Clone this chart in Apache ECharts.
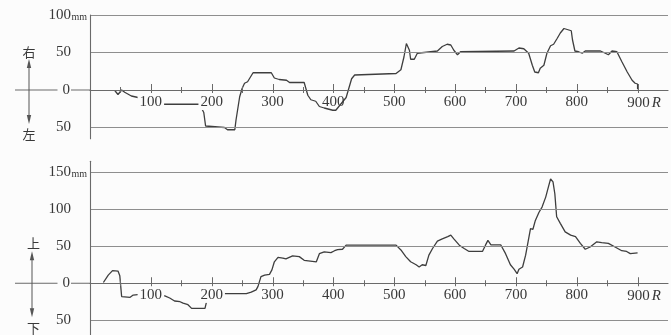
<!DOCTYPE html>
<html><head><meta charset="utf-8">
<script src="https://cdn.jsdelivr.net/npm/echarts@6/dist/echarts.min.js"></script>
<style>html,body{margin:0;padding:0;background:#fcfcfc}#c{width:671px;height:335px}</style>
</head><body><div id="c"></div>
<script>
// ---- data ----
const xTickLabels = [100, 200, 300, 400, 500, 600, 700, 800, 900];
const xMinorTicks = [50, 150, 250, 350, 450, 550, 650, 750, 850];
const xUnit = 'R';

const topYLabels = [-50, 0, 50, 100];
const topGridValues = [100, 50, -50];
const topSideLabels = ['右', '左'];
const topR = [41, 46, 52, 57, 68, 79, 117, 180, 187, 190, 193, 221, 226, 238, 240, 246, 250, 254, 259, 268, 298, 303, 311, 323, 328, 352, 358, 363, 371, 377, 385, 399, 404, 421, 430, 435, 503, 511, 516, 520, 525, 527, 533, 538, 541, 571, 579, 587, 593, 598, 604, 609, 697, 705, 713, 721, 727, 731, 737, 740, 746, 751, 757, 762, 768, 773, 779, 787, 791, 793, 797, 803, 809, 814, 839, 847, 852, 858, 866, 874, 883, 891, 896, 900, 900];
const topMm = [-1, -6, 0, -3, -8, -10, -19, -19, -30, -48, -49, -50, -53, -53, -40, -9, 2, 9, 11, 23, 23, 16, 14, 13, 10, 10, -7, -13, -15, -22, -24, -27, -27, -10, 15, 20, 22, 27, 44, 62, 53, 41, 41, 49, 51, 52, 58, 61, 60, 53, 47, 51, 52, 56, 55, 49, 33, 24, 23, 29, 33, 49, 59, 61, 69, 76, 82, 80, 79, 67, 52, 51, 49, 52, 52, 49, 47, 52, 51, 38, 24, 13, 9, 8, 1];

const bottomYLabels = [-50, 0, 50, 100, 150];
const bottomGridValues = [150, 100, 50, -50];
const bottomSideLabels = ['上', '下'];
const bottomR = [22, 30, 37, 46, 49, 52, 55, 66, 71, 82, 123, 131, 139, 148, 153, 161, 167, 189, 191, 194, 221, 257, 265, 273, 276, 281, 287, 295, 299, 303, 309, 317, 322, 333, 344, 352, 372, 377, 385, 396, 402, 407, 415, 421, 503, 511, 519, 527, 536, 541, 546, 552, 557, 563, 571, 579, 588, 593, 598, 607, 615, 623, 645, 650, 654, 659, 675, 683, 691, 697, 702, 705, 711, 716, 724, 728, 732, 738, 743, 749, 754, 757, 761, 764, 767, 773, 781, 790, 798, 806, 814, 822, 833, 841, 852, 863, 874, 882, 888, 900];
const bottomMm = [1, 11, 17, 16.5, 10, -18, -19, -19, -16, -15, -17, -20, -24, -25, -27, -29, -34, -34, -27, -17, -14, -14, -12, -9, -4.5, 9, 11, 12, 18, 29, 35, 34, 33, 37, 36, 31, 29, 40, 42.5, 41.5, 44, 45.5, 46, 51.5, 51.5, 45, 36, 29, 25, 22, 25, 24, 38, 47, 57, 60, 63, 65, 60, 51.5, 47, 43, 43, 51.5, 58, 52, 52, 40, 25, 19, 13, 19, 22, 38, 74, 73, 85, 96, 103, 116.5, 132, 141, 137, 121, 90, 81, 69.5, 65, 63, 54, 46, 49, 56, 55, 54, 49, 44, 43, 40, 41];

// ---- styles ----
const BG = '#fcfcfc';
const TXT = '#383838';
const AX = '#6a6a6a';
const GRIDC = '#8e8e8e';
const LINE = '#3e3e3e';
const SERIF = '"Liberation Serif","DejaVu Serif",serif';

const X_MIN = 0, X_MAX = 950;
const TOP_Y = [-65, 100], BOT_Y = [-70, 165];
const TOP_H = 123.75, BOT_H = 235 * 0.744;

const chart = echarts.init(document.getElementById('c'), null, {renderer: 'canvas'});

function pairs(xs, ys) { return xs.map((x, i) => [x, ys[i]]); }

function xAxisFor(gi, yr, h, openLabels) {
  // move the axis up from grid bottom to the y=0 level
  const off = -h * (0 - yr[0]) / (yr[1] - yr[0]);
  return {
    type: 'value', gridIndex: gi, min: X_MIN, max: X_MAX, interval: 50, z: 10,
    position: 'bottom', offset: off,
    axisLine: {show: true, onZero: false, lineStyle: {color: AX, width: 1.1}},
    axisTick: {show: false},
    splitLine: {show: false},
    axisLabel: {
      margin: 6, color: TXT, fontFamily: SERIF, fontSize: 15,
      formatter: v => {
        if (xTickLabels.indexOf(v) < 0) return '';
        const st = openLabels.indexOf(v) >= 0 ? 'o' : 'n';
        return v === xTickLabels[xTickLabels.length - 1]
          ? '{s|}{' + st + '|' + v + '}{r|' + xUnit + '}' : '{' + st + '|' + v + '}';
      },
      rich: {
        n: {fontFamily: SERIF, fontSize: 15, lineHeight: 13, color: TXT, backgroundColor: BG, padding: [0, 2, 0, 2]},
        o: {fontFamily: SERIF, fontSize: 15, lineHeight: 13, color: TXT, padding: [0, 2, 0, 2]},
        s: {width: 11},
        r: {fontFamily: SERIF, fontSize: 15, lineHeight: 13, fontStyle: 'italic', color: TXT}
      }
    }
  };
}

function yAxisFor(gi, yr, labels, maxLabel) {
  return {
    type: 'value', gridIndex: gi, min: yr[0], max: yr[1], z: 10,
    axisLine: {show: true, onZero: false, lineStyle: {color: AX, width: 1.1}},
    axisTick: {show: false},
    splitLine: {show: false},
    axisLabel: {
      customValues: labels, margin: 3, color: TXT,
      formatter: v => v === maxLabel ? '{n|' + v + '}{u|mm}' : (v === 0 ? '{z|0}{s|}' : '{n|' + Math.abs(v) + '}{s|}'),
      rich: {
        n: {fontFamily: SERIF, fontSize: 15, color: TXT},
        z: {fontFamily: SERIF, fontSize: 15, color: TXT, backgroundColor: BG, padding: [0, 1, 0, 5]},
        u: {fontFamily: SERIF, fontSize: 10, color: TXT, width: 16, verticalAlign: 'bottom'},
        s: {width: 16}
      }
    }
  };
}

function seriesFor(gi, xs, ys, gridVals) {
  return {
    type: 'line', xAxisIndex: gi, yAxisIndex: gi,
    data: pairs(xs, ys), showSymbol: false, symbol: 'none', smooth: false,
    lineStyle: {color: LINE, width: 1.3}, silent: true, z: 3,
    markLine: {
      silent: true, symbol: ['none', 'none'], animation: false,
      label: {show: false},
      lineStyle: {color: GRIDC, width: 1, type: 'solid'},
      emphasis: {disabled: true},
      data: gridVals.map(v => ({yAxis: v}))
    }
  };
}

chart.setOption({
  backgroundColor: BG,
  animation: false,
  grid: [
    {left: 90, top: 15, width: 579.5, height: TOP_H},
    {left: 90, top: 284 - 165 * 0.744, width: 579.5, height: BOT_H}
  ],
  xAxis: [xAxisFor(0, TOP_Y, TOP_H, [400]), xAxisFor(1, BOT_Y, BOT_H, [])],
  yAxis: [yAxisFor(0, TOP_Y, topYLabels, 100), yAxisFor(1, BOT_Y, bottomYLabels, 150)],
  series: [seriesFor(0, topR, topMm, topGridValues), seriesFor(1, bottomR, bottomMm, bottomGridValues)]
});

function sideMarks(gi, labels, ax, up, down, lblUp, lblDown, lx) {
  const p = chart.convertToPixel({gridIndex: gi}, [0, 0]);
  const y0 = p[1], xl = p[0];
  const font = '13px "Noto Sans CJK SC"';
  const els = [
    {type: 'line', z: 1, shape: {x1: 15, y1: y0, x2: xl, y2: y0}, style: {stroke: AX, lineWidth: 1.1}},
    {type: 'line', z: 1, shape: {x1: ax, y1: y0 - up + 6, x2: ax, y2: y0 + down - 6}, style: {stroke: '#555', lineWidth: 1}},
    {type: 'polygon', z: 1, shape: {points: [[ax, y0 - up], [ax - 2.2, y0 - up + 9], [ax + 2.2, y0 - up + 9]]}, style: {fill: '#555'}},
    {type: 'polygon', z: 1, shape: {points: [[ax, y0 + down], [ax - 2.2, y0 + down - 9], [ax + 2.2, y0 + down - 9]]}, style: {fill: '#555'}},
    {type: 'text', z: 1, style: {text: labels[0], x: lx, y: y0 + lblUp, font: font, fill: TXT, align: 'center', verticalAlign: 'middle', textAlign: 'center', textVerticalAlign: 'middle'}},
    {type: 'text', z: 1, style: {text: labels[1], x: lx, y: y0 + lblDown, font: font, fill: TXT, align: 'center', verticalAlign: 'middle', textAlign: 'center', textVerticalAlign: 'middle'}}
  ];
  // axis ticks placed through the grid's x scale
  xTickLabels.forEach(v => {
    const px = Math.round(chart.convertToPixel({gridIndex: gi}, [v, 0])[0]) + 0.5;
    els.push({type: 'line', z: 100, shape: {x1: px, y1: y0 - 6, x2: px, y2: y0 + 3}, style: {stroke: AX, lineWidth: 1}});
  });
  xMinorTicks.forEach(v => {
    const px = Math.round(chart.convertToPixel({gridIndex: gi}, [v, 0])[0]) + 0.5;
    els.push({type: 'line', z: 100, shape: {x1: px, y1: y0 - 3, x2: px, y2: y0 + 3}, style: {stroke: AX, lineWidth: 1}});
  });
  return els;
}

chart.setOption({
  graphic: [].concat(
    sideMarks(0, topSideLabels, 29, 31, 34, -38, 44, 29),
    sideMarks(1, bottomSideLabels, 32, 32, 34, -40, 44.5, 33.5)
  )
});
</script></body></html>
